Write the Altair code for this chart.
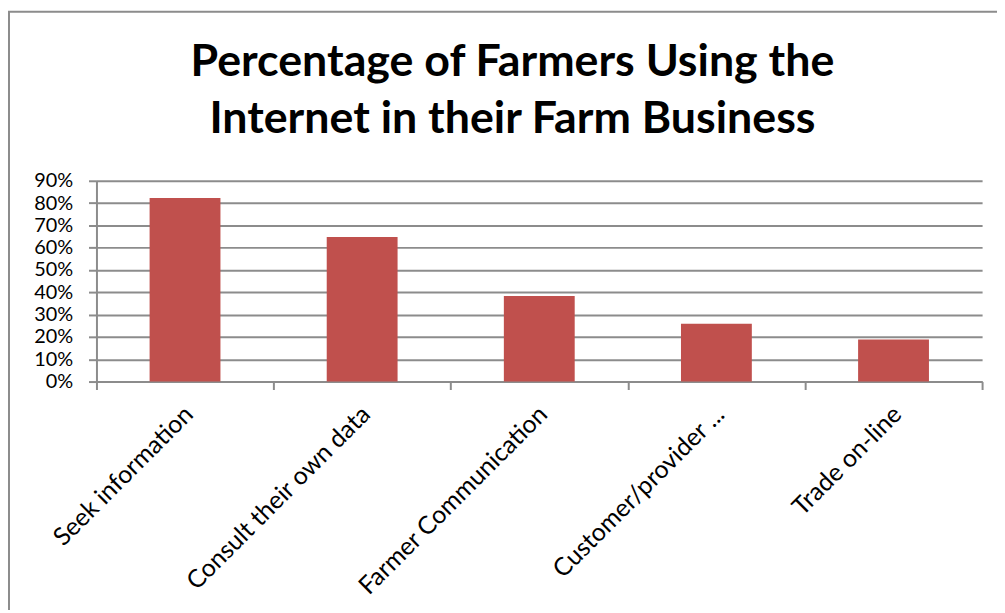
import altair as alt
import pandas as pd

categories = ["Seek information", "Consult their own data", "Farmer Communication",
              "Customer/provider ...", "Trade on-line"]
values = [0.823, 0.648, 0.383, 0.259, 0.189]

df = pd.DataFrame({"category": categories, "value": values})

GRAY = "#8c8c8c"
FONT = "Lato"

bars = alt.Chart(df).mark_bar(color="#C0504D", width=alt.RelativeBandSize(0.4)).encode(
    x=alt.X("category:N", sort=categories, title=None,
            scale=alt.Scale(paddingInner=0, paddingOuter=0),
            axis=alt.Axis(labelAngle=-45, labelFontSize=25, labelFont=FONT,
                          labelColor="#000000", tickBand="extent", tickSize=8,
                          tickColor=GRAY, tickWidth=2, domainColor=GRAY, domainWidth=2,
                          labelPadding=12, labelOffset=-5, grid=False, labelLimit=400)),
    y=alt.Y("value:Q", title=None,
            scale=alt.Scale(domain=[0, 0.9], nice=False),
            axis=alt.Axis(format=".0%", values=[i / 10 for i in range(10)],
                          labelFontSize=20, labelFont=FONT, labelColor="#000000",
                          tickSize=8, tickColor=GRAY, tickWidth=2,
                          domainColor=GRAY, domainWidth=2,
                          grid=True, gridColor=GRAY, gridWidth=2,
                          labelPadding=16)),
)

frame = alt.Chart(pd.DataFrame({"a": [0]})).mark_rect(
    fill=None, stroke="#8c8c8c", strokeWidth=2
).encode(x=alt.value(-88), x2=alt.value(930), y=alt.value(-170), y2=alt.value(460))

chart = alt.layer(frame, bars).properties(
    width=891, height=202,
    title=alt.TitleParams(
        ["Percentage of Farmers Using the", "Internet in their Farm Business"],
        fontSize=45, font=FONT, fontWeight="bold", color="#000000",
        lineHeight=57, anchor="middle", dx=-27, offset=0, dy=132),
    autosize=alt.AutoSizeParams(type="none"),
    padding={"left": 89, "top": 172, "right": 15, "bottom": 228},
).configure_view(stroke=None)

chart.save("out.html", embed_options={"renderer": "svg", "actions": False})
